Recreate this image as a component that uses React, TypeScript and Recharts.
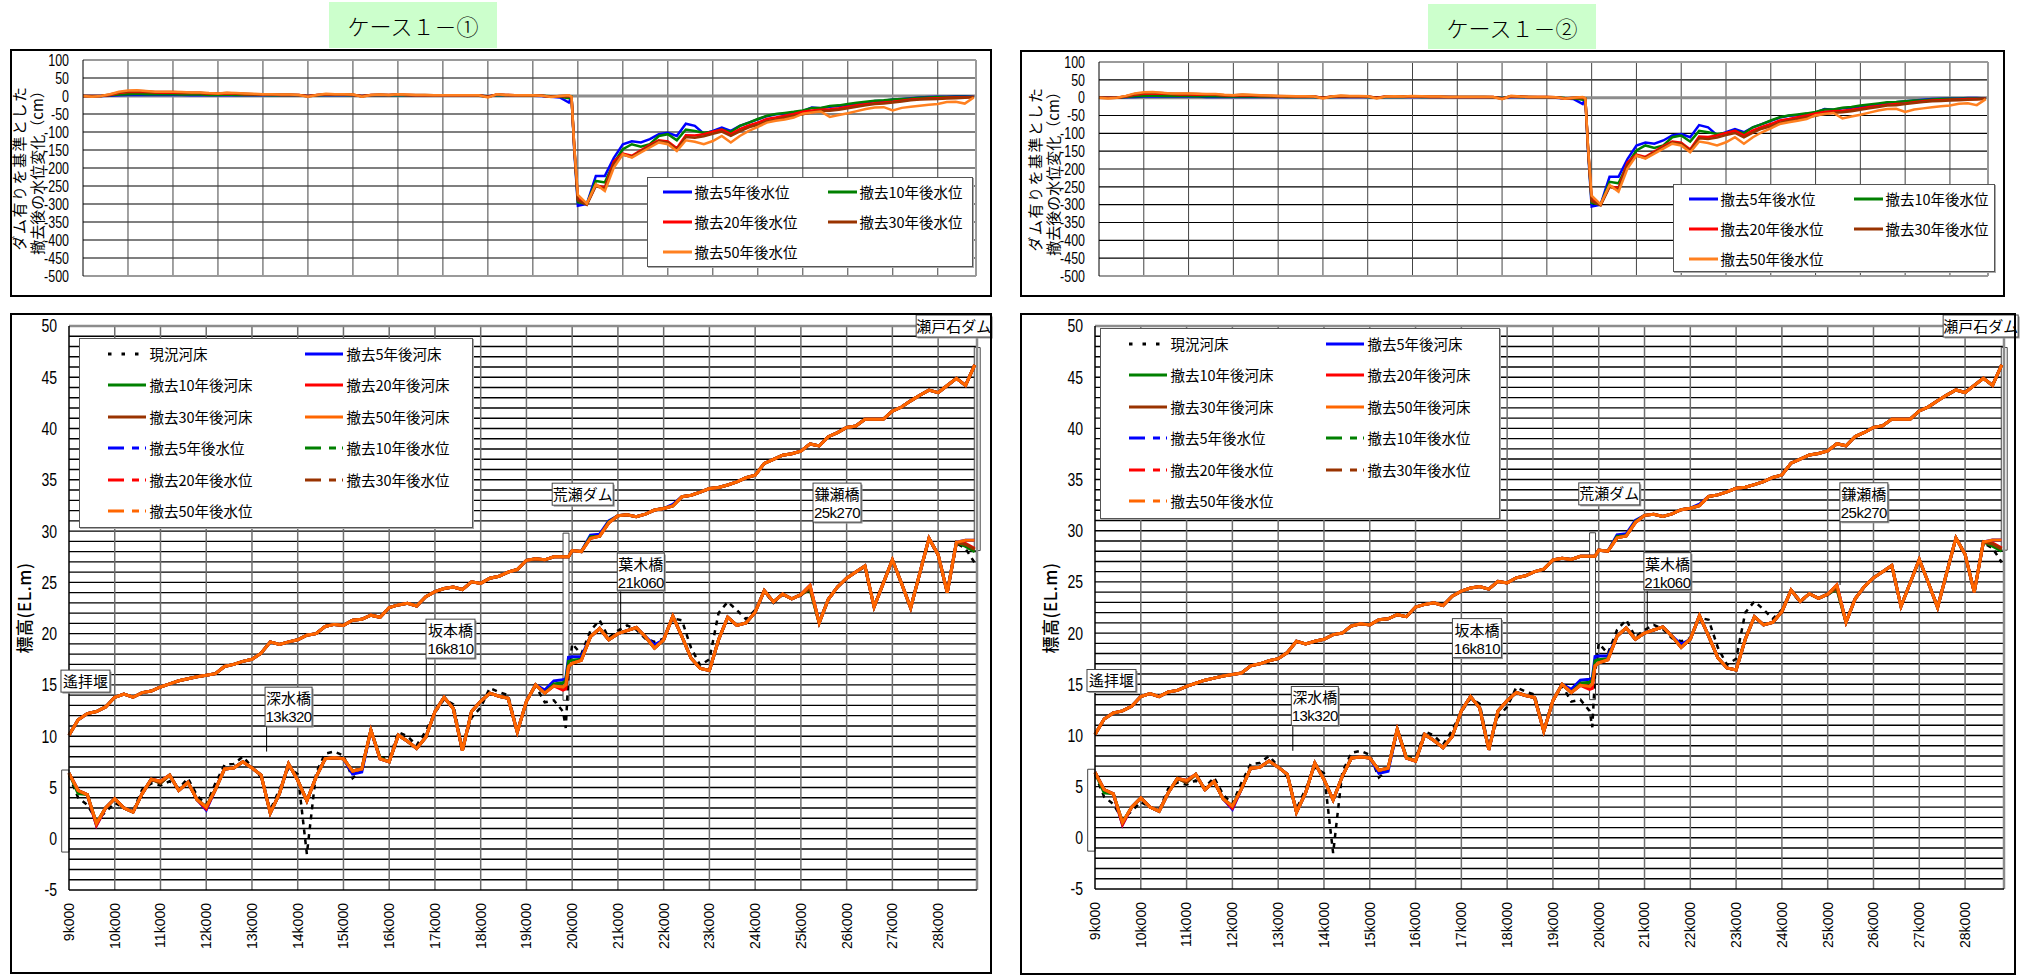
import React from 'react';
import {
  LineChart,
  Line,
  XAxis,
  YAxis,
  CartesianGrid,
  ReferenceLine,
  ReferenceArea,
  ReferenceDot,
} from 'recharts';

// distance (km) of each cross section
const km = [
  9, 9.2, 9.4, 9.6, 9.8, 10, 10.2, 10.4, 10.6, 10.8,
  11, 11.2, 11.4, 11.6, 11.8, 12, 12.2, 12.4, 12.6, 12.8,
  13, 13.2, 13.4, 13.6, 13.8, 14, 14.2, 14.4, 14.6, 14.8,
  15, 15.2, 15.4, 15.6, 15.8, 16, 16.2, 16.4, 16.6, 16.8,
  17, 17.2, 17.4, 17.6, 17.8, 18, 18.2, 18.4, 18.6, 18.8,
  19, 19.2, 19.4, 19.6, 19.8, 19.86, 19.92,
  20, 20.2, 20.4, 20.6, 20.8, 21, 21.2, 21.4, 21.6, 21.8,
  22, 22.2, 22.4, 22.6, 22.8, 23, 23.2, 23.4, 23.6, 23.8,
  24, 24.2, 24.4, 24.6, 24.8, 25, 25.2, 25.4, 25.6, 25.8,
  26, 26.2, 26.4, 26.6, 26.8, 27, 27.2, 27.4, 27.6, 27.8,
  28, 28.2, 28.4, 28.6, 28.8,
];

// 現況河床 (m)
const bedNow = [
  6.2, 4.0, 3.3, 1.8, 2.6, 3.5, 3.0, 2.7, 4.8, 5.4,
  5.2, 5.6, 4.9, 5.9, 4.2, 3.3, 5.4, 7.2, 7.3, 8.0,
  7.0, 6.0, 2.8, 4.8, 6.9, 6.3, -1.5, 6.4, 8.3, 8.5,
  8.1, 5.9, 6.7, 10.4, 7.9, 7.8, 10.4, 10.0, 9.1, 10.5,
  12.3, 13.6, 13.1, 8.8, 11.8, 12.8, 14.7, 14.3, 14.0, 10.5,
  13.4, 14.9, 13.3, 13.5, 12.4, 10.8, 16.0,
  19.0, 18.0, 20.3, 21.3, 19.6, 20.3, 20.8, 20.4, 19.5, 19.2,
  19.5, 21.5, 21.3, 18.6, 16.9, 17.5, 22.0, 23.1, 22.3, 21.4,
  22.3, 24.1, 23.0, 23.8, 23.4, 23.7, 24.5, 21.1, 23.3, 24.5,
  25.4, 26.0, 26.5, 22.7, 24.9, 27.1, 24.9, 22.6, 25.9, 29.2,
  27.6, 24.1, 28.8, 28.3, 26.9,
];

// 撤去50年後河床 (m)
const bed50 = [
  6.4, 4.7, 4.3, 1.5, 3.0, 3.9, 3.0, 2.6, 4.4, 5.8,
  5.6, 6.2, 4.7, 5.5, 3.8, 3.1, 4.8, 6.8, 6.9, 7.5,
  6.9, 6.2, 2.5, 4.4, 7.3, 5.7, 3.7, 6.0, 7.8, 7.9,
  7.8, 6.6, 6.8, 10.6, 7.8, 7.5, 10.1, 9.5, 8.8, 9.9,
  12.4, 13.8, 12.7, 8.6, 12.4, 13.4, 14.2, 13.9, 13.7, 10.4,
  13.4, 15.0, 14.2, 14.9, 14.8, 15.0, 16.8,
  17.1, 17.4, 19.7, 20.5, 19.4, 20.0, 20.3, 20.6, 19.7, 18.6,
  19.4, 21.7, 19.7, 17.6, 16.6, 16.4, 19.4, 21.6, 20.8, 21.05,
  22.1, 24.2, 23.1, 23.85, 23.4, 23.8, 24.7, 21.05, 23.35, 24.55,
  25.4, 26.0, 26.6, 22.6, 24.9, 27.2, 24.9, 22.5, 25.9, 29.3,
  27.7, 24.0, 28.9, 29.1, 29.1,
];

// where the other years' beds part from the 50-year bed
const bed5Fix: Record<string, number> = {
  '9.6': 1.3, '12': 2.8, '15.2': 6.3, '15.4': 6.5, '19.4': 14.5, '19.6': 15.4,
  '19.8': 15.5, '19.86': 15.6, '19.92': 17.7, '20': 17.75, '20.2': 17.75, '21.8': 18.9,
};
const bed10Fix: Record<string, number> = {
  '9.2': 4.4, '11': 5.4, '15.8': 7.9, '19.6': 15.1, '19.8': 15.2, '19.86': 15.4,
  '19.92': 17.3, '20': 17.4, '20.2': 17.5, '25.2': 24.3, '28.6': 28.5, '28.8': 28.0,
};
const bed20Fix: Record<string, number> = {
  '9.6': 1.3, '12': 2.9, '19.8': 14.5, '19.86': 14.6, '28.6': 28.8, '28.8': 28.3,
};
const bed30Fix: Record<string, number> = {
  '11': 5.4, '25.2': 24.4, '28.6': 28.7, '28.8': 28.2,
};

// 撤去50年後水位 (m)
const wl50 = [
  10.1, 11.6, 12.2, 12.4, 12.85, 13.8, 14.1, 13.8, 14.25, 14.4,
  14.8, 15.1, 15.4, 15.6, 15.8, 15.95, 16.1, 16.8, 17.0, 17.3,
  17.5, 18.1, 19.2, 18.95, 19.2, 19.4, 19.85, 20.0, 20.7, 20.9,
  20.8, 21.3, 21.4, 21.8, 21.6, 22.55, 22.8, 22.95, 22.7, 23.6,
  24.1, 24.4, 24.55, 24.3, 25.05, 24.9, 25.4, 25.6, 26.0, 26.25,
  27.15, 27.3, 27.2, 27.5, 27.5, 27.5, 27.5,
  28.1, 28.0, 29.3, 29.5, 30.8, 31.5, 31.6, 31.4, 31.65, 32.05,
  32.2, 32.45, 33.35, 33.5, 33.8, 34.15, 34.25, 34.5, 34.8, 35.2,
  35.45, 36.6, 37.0, 37.4, 37.55, 37.8, 38.5, 38.3, 39.2, 39.6,
  40.1, 40.25, 40.9, 40.9, 40.9, 41.7, 42.1, 42.7, 43.25, 43.75,
  43.5, 44.2, 44.9, 44.2, 46.2,
];
const wl5Fix: Record<string, number> = { '20.4': 29.6, '20.6': 29.7, '20.8': 31.0, '22.2': 32.6 };
const wl10Fix: Record<string, number> = { '20.4': 29.45, '20.8': 30.9 };
const wl20Fix: Record<string, number> = {};
const wl30Fix: Record<string, number> = {};

// ダム有りを基準とした撤去後の水位変化 (cm)
const dWL5 = [
  0, 0, 0, 1, 2, 3, 3, 3, 3, 3,
  3, 3, 2, 2, 2, 2, 2, 2, 2, 2,
  2, 2, 2, 2, 2, 0, 2, 2, 2, 2,
  2, 0, 2, 2, 2, 2, 2, 2, 2, 2,
  1, 1, 1, 1, 1, -1, 2, 2, 1, 1,
  1, 0, -2, -4, -18, -2, -150,
  -305, -300, -222, -222, -172, -134, -126, -129, -120, -106,
  -102, -111, -77, -83, -105, -97, -88, -97, -83, -74,
  -65, -56, -51, -49, -46, -42, -32, -34, -30, -28,
  -25, -22, -19, -14, -13, -10, -8, -6, -4, -3,
  -2, -2, -1, -1, -2,
];
const dWL10 = [
  0, 0, 0, 2, 4, 5, 6, 5, 5, 5,
  5, 4, 4, 4, 3, 3, 4, 3, 3, 3,
  3, 2, 2, 2, 2, 0, 2, 3, 3, 3,
  2, 0, 2, 2, 2, 3, 2, 2, 2, 2,
  2, 2, 2, 2, 1, -1, 3, 2, 2, 1,
  1, 1, -1, -2, -6, -3, -145,
  -295, -300, -236, -240, -186, -148, -134, -141, -134, -111,
  -106, -123, -93, -97, -102, -99, -93, -100, -83, -74,
  -64, -55, -50, -47, -44, -40, -33, -33, -28, -26,
  -22, -19, -16, -13, -12, -10, -8, -7, -5, -4,
  -3, -3, -2, -2, -3,
];
const dWL20 = [
  0, 0, 0, 3, 8, 11, 12, 11, 10, 9,
  9, 8, 8, 8, 6, 6, 7, 6, 5, 5,
  4, 4, 3, 3, 3, 0, 3, 4, 4, 4,
  3, 0, 3, 3, 3, 4, 3, 2, 2, 2,
  2, 2, 2, 2, 2, -2, 4, 3, 2, 2,
  2, 1, -2, -1, 0, -4, -142,
  -285, -300, -248, -254, -182, -160, -166, -151, -136, -123,
  -126, -145, -109, -110, -106, -99, -93, -106, -92, -82,
  -74, -64, -60, -55, -50, -44, -40, -38, -37, -34,
  -30, -26, -23, -20, -18, -16, -13, -10, -8, -7,
  -6, -5, -4, -4, -3,
];
const dWL30 = [
  0, -1, 0, 4, 10, 13, 14, 13, 11, 11,
  11, 10, 9, 9, 7, 7, 8, 7, 6, 5,
  5, 4, 4, 4, 3, -1, 3, 5, 4, 4,
  4, -1, 3, 4, 3, 4, 3, 3, 3, 2,
  2, 2, 2, 2, 2, -3, 4, 3, 2, 2,
  2, 1, -2, 0, 1, -3, -140,
  -290, -302, -250, -258, -188, -163, -169, -154, -139, -126,
  -129, -149, -114, -116, -112, -105, -99, -111, -98, -87,
  -80, -70, -65, -60, -55, -51, -45, -42, -41, -38,
  -34, -30, -26, -22, -21, -18, -15, -12, -10, -9,
  -8, -7, -6, -5, -3,
];
const dWL50 = [
  0, -2, 0, 5, 12, 15, 16, 14, 12, 12,
  12, 11, 10, 10, 8, 7, 9, 8, 7, 6,
  5, 5, 4, 4, 3, -2, 3, 6, 5, 5,
  4, -2, 3, 4, 3, 5, 4, 3, 3, 2,
  2, 2, 2, 2, 2, -4, 5, 3, 2, 2,
  2, 1, -3, 0, 2, -2, -140,
  -275, -299, -245, -264, -199, -162, -171, -157, -143, -129,
  -134, -153, -123, -127, -134, -125, -111, -129, -111, -97,
  -86, -74, -69, -65, -60, -49, -46, -43, -58, -53,
  -48, -42, -36, -32, -31, -40, -33, -30, -27, -24,
  -22, -17, -16, -21, -4,
];

const kmTicks = [9, 10, 11, 12, 13, 14, 15, 16, 17, 18, 19, 20, 21, 22, 23, 24, 25, 26, 27, 28];
const kmGrid = kmTicks.slice(1);
const levelTicks = [100, 50, 0, -50, -100, -150, -200, -250, -300, -350, -400, -450, -500];
const levelGrid = [50, -50, -100, -150, -200, -250, -300, -350, -400, -450];
const elevTicks = [50, 45, 40, 35, 30, 25, 20, 15, 10, 5, 0, -5];
const elevGrid = [
  49, 48, 47, 46, 45, 44, 43, 42, 41, 40, 39, 38, 37, 36, 35, 34, 33, 32, 31, 30,
  29, 28, 27, 26, 25, 24, 23, 22, 21, 20, 19, 18, 17, 16, 15, 14, 13, 12, 11, 10,
  9, 8, 7, 6, 5, 4, 3, 2, 1, 0, -1, -2, -3, -4,
];
const KM_MAX = 28.85;

const BLUE = '#0000ff';
const GREEN = '#008000';
const RED = '#ff0000';
const BROWN = '#993300';
const ORANGE = '#ff6600';
const ORANGE_TOP = '#ff8020';
const JP = "'Noto Sans CJK JP', 'Noto Sans', sans-serif";
const LATIN = "'Liberation Sans', Arial, sans-serif";
const DOTS = '3.5 10';
const DASHDOT = '16 8 7 6 1.5 40';

const levelData = km.map((k, i) => ({
  km: k, d5: dWL5[i], d10: dWL10[i], d20: dWL20[i], d30: dWL30[i], d50: dWL50[i],
}));

const pick = (fix: Record<string, number>, base: number[], i: number) =>
  fix[String(km[i])] ?? base[i];

const profileData = km.map((k, i) => ({
  km: k,
  now: bedNow[i],
  b5: pick(bed5Fix, bed50, i),
  b10: pick(bed10Fix, bed50, i),
  b20: pick(bed20Fix, bed50, i),
  b30: pick(bed30Fix, bed50, i),
  b50: bed50[i],
  w5: pick(wl5Fix, wl50, i),
  w10: pick(wl10Fix, wl50, i),
  w20: pick(wl20Fix, wl50, i),
  w30: pick(wl30Fix, wl50, i),
  w50: wl50[i],
}));

const levelSeries = [
  { key: 'd5', name: '撤去5年後水位', color: BLUE },
  { key: 'd10', name: '撤去10年後水位', color: GREEN },
  { key: 'd20', name: '撤去20年後水位', color: RED },
  { key: 'd30', name: '撤去30年後水位', color: BROWN },
  { key: 'd50', name: '撤去50年後水位', color: ORANGE_TOP },
];

const profileLegend = [
  { name: '現況河床', color: '#000', dash: DOTS },
  { name: '撤去5年後河床', color: BLUE },
  { name: '撤去10年後河床', color: GREEN },
  { name: '撤去20年後河床', color: RED },
  { name: '撤去30年後河床', color: BROWN },
  { name: '撤去50年後河床', color: ORANGE },
  { name: '撤去5年後水位', color: BLUE, dash: DASHDOT },
  { name: '撤去10年後水位', color: GREEN, dash: DASHDOT },
  { name: '撤去20年後水位', color: RED, dash: DASHDOT },
  { name: '撤去30年後水位', color: BROWN, dash: DASHDOT },
  { name: '撤去50年後水位', color: ORANGE, dash: DASHDOT },
];
const profileLines = [
  { key: 'b5', color: BLUE }, { key: 'b10', color: GREEN }, { key: 'b20', color: RED },
  { key: 'b30', color: BROWN }, { key: 'b50', color: ORANGE },
  { key: 'w5', color: BLUE }, { key: 'w10', color: GREEN }, { key: 'w20', color: RED },
  { key: 'w30', color: BROWN }, { key: 'w50', color: ORANGE },
];

// callout boxes, leader lines and frames of the profile chart
const tags = [
  { km: 9.36, v: 15.37, w: 49, h: 22, lines: ['遙拝堰'] },
  { km: 13.8, v: 12.88, w: 47, h: 39, lines: ['深水橋', '13k320'] },
  { km: 17.34, v: 19.51, w: 49, h: 39, lines: ['坂本橋', '16k810'] },
  { km: 20.23, v: 33.6, w: 61, h: 22, lines: ['荒瀬ダム'] },
  { km: 21.5, v: 26.05, w: 47, h: 37, lines: ['葉木橋', '21k060'] },
  { km: 25.79, v: 32.78, w: 48, h: 39, lines: ['鎌瀬橋', '25k270'] },
  { km: 28.34, v: 50.0, w: 75, h: 22, lines: ['瀬戸石ダム'] },
];
const leaders = [
  { km: 13.32, y1: 8.5, y2: 11.0 },
  { km: 16.81, y1: 12.0, y2: 17.6 },
  { km: 21.06, y1: 20.0, y2: 24.2 },
  { km: 25.27, y1: 24.7, y2: 30.9 },
];
const frames = [
  { x1: 8.84, x2: 9.0, y1: -1.3, y2: 6.7 },
  { x1: 19.8, x2: 19.93, y1: 13.5, y2: 29.8 },
  { x1: 28.79, x2: 28.92, y1: 28.1, y2: 47.9 },
];

type Box = { x: number; y: number; w: number; h: number };
type Plot = { l: number; t: number; r: number; b: number };
interface Layout {
  title: string;
  titleBox: Box;
  topOuter: Box;
  topPlot: Plot;
  topLegend: Box;
  botOuter: Box;
  botPlot: Plot;
  botLegend: Box;
}

const leftLayout: Layout = {
  title: 'ケース１－①',
  titleBox: { x: 329, y: 2, w: 168, h: 46 },
  topOuter: { x: 10, y: 49, w: 982, h: 248 },
  topPlot: { l: 83, t: 60, r: 976, b: 276 },
  topLegend: { x: 647, y: 177, w: 326, h: 90 },
  botOuter: { x: 10, y: 313, w: 982, h: 661 },
  botPlot: { l: 69, t: 326, r: 977, b: 890 },
  botLegend: { x: 79, y: 338, w: 394, h: 190 },
};
const rightLayout: Layout = {
  title: 'ケース１－②',
  titleBox: { x: 1428, y: 4, w: 168, h: 45 },
  topOuter: { x: 1020, y: 50, w: 985, h: 247 },
  topPlot: { l: 1099, t: 62, r: 1988, b: 276 },
  topLegend: { x: 1673, y: 184, w: 322, h: 88 },
  botOuter: { x: 1020, y: 313, w: 996, h: 662 },
  botPlot: { l: 1095, t: 326, r: 2004, b: 889 },
  botLegend: { x: 1100, y: 328, w: 400, h: 191 },
};

const KmTick = (p: any) => {
  const { x, y, payload } = p;
  const ty = y + 5;
  return (
    <text x={x} y={ty} transform={`rotate(-90 ${x} ${ty})`} textAnchor="end" dy="0.35em"
      fontSize={14} fontFamily={LATIN} fill="#000">
      {`${payload.value}k000`}
    </text>
  );
};

// condensed value labels like the original spreadsheet font
const NarrowTick = (p: any) => {
  const { x, y, payload, size } = p;
  return (
    <text transform={`translate(${x},${y}) scale(0.78,1)`} textAnchor="end" dy="0.36em"
      fontSize={size} fontFamily={LATIN} fill="#000">
      {payload.value}
    </text>
  );
};

const TagBox = (p: any) => {
  const { cx, cy, w, h, lines } = p;
  if (cx == null || cy == null) return null;
  const top = cy - h / 2;
  const two = lines.length > 1;
  return (
    <g>
      <rect x={cx - w / 2 + 1.5} y={top + 1.5} width={w} height={h} fill="#999" />
      <rect x={cx - w / 2} y={top} width={w} height={h} fill="#fff" stroke="#444" strokeWidth={1} />
      {lines.map((t: string, i: number) => (
        <text key={i} x={cx} y={two ? top + 17 + i * 18 : top + 16.5} textAnchor="middle"
          fontSize={15} fontFamily={i === 0 ? JP : LATIN} letterSpacing={i === 0 ? 0 : -0.5} fill="#000">{t}</text>
      ))}
    </g>
  );
};

function LegendSample({ color, dash, len }: { color: string; dash?: string; len: number }) {
  return (
    <svg width={len} height={6} style={{ position: 'absolute', top: -3, left: 0 }}>
      <line x1={0} y1={3} x2={len} y2={3} stroke={color} strokeWidth={3} strokeDasharray={dash} />
    </svg>
  );
}

function LegendBox({ box, items, col1, col2, rows, len, textGap }: {
  box: Box;
  items: { name: string; color: string; dash?: string }[];
  col1: number;
  col2: number;
  rows: number[];
  len: number;
  textGap: number;
}) {
  return (
    <div style={{
      position: 'absolute', left: box.x, top: box.y, width: box.w, height: box.h,
      boxSizing: 'border-box', border: '1.5px solid #555', background: '#fff',
      boxShadow: '1px 1px 0 #aaa',
    }}>
      {items.map((it, i) => {
        const left = (i % 2 === 0 ? col1 : col2) - 1.5;
        const top = rows[Math.floor(i / 2)] - 1.5;
        return (
          <div key={it.name} style={{ position: 'absolute', left, top }}>
            <LegendSample color={it.color} dash={it.dash} len={len} />
            <div style={{
              position: 'absolute', left: len + textGap, top: -10, height: 20, lineHeight: '20px',
              whiteSpace: 'nowrap', fontFamily: JP, fontSize: 14.5, color: '#000',
            }}>{it.name}</div>
          </div>
        );
      })}
    </div>
  );
}

function Rotated({ cx, cy, text, size, spacing = 0, weight = 400 }: {
  cx: number; cy: number; text: string; size: number; spacing?: number; weight?: number;
}) {
  return (
    <div style={{
      position: 'absolute', left: cx, top: cy, transform: 'translate(-50%, -50%) rotate(-90deg)',
      whiteSpace: 'nowrap', fontFamily: JP, fontSize: size, letterSpacing: spacing,
      fontWeight: weight, color: '#000', lineHeight: 1,
    }}>{text}</div>
  );
}

function LevelChart({ outer, plot }: { outer: Box; plot: Plot }) {
  const yW = 40;
  return (
    <div style={{ position: 'absolute', left: outer.x, top: outer.y }}>
      <LineChart
        width={outer.w}
        height={outer.h}
        data={levelData}
        margin={{
          top: plot.t - outer.y,
          right: outer.x + outer.w - plot.r,
          bottom: outer.y + outer.h - plot.b,
          left: plot.l - outer.x - yW,
        }}
      >
        <CartesianGrid vertical={false} horizontalValues={levelGrid} stroke="#000" strokeWidth={1.2} />
        <CartesianGrid horizontal={false} verticalValues={kmGrid} stroke="#444" strokeWidth={1} />
        <XAxis type="number" dataKey="km" domain={[9, KM_MAX]} ticks={kmTicks} hide />
        <YAxis
          width={yW}
          type="number"
          domain={[-500, 100]}
          ticks={levelTicks}
          interval={0}
          tickLine={false}
          tickMargin={8}
          axisLine={{ stroke: '#000' }}
          tick={<NarrowTick size={16} />}
        />
        <ReferenceLine y={0} stroke="#8c8c8c" strokeWidth={3} />
        <ReferenceLine y={100} stroke="#9a9a9a" strokeWidth={2} />
        <ReferenceLine y={-500} stroke="#9a9a9a" strokeWidth={2} />
        <ReferenceLine x={KM_MAX} stroke="#9a9a9a" strokeWidth={2} />
        {levelSeries.map((s) => (
          <Line
            key={s.key}
            type="linear"
            dataKey={s.key}
            name={s.name}
            stroke={s.color}
            strokeWidth={2.5}
            dot={false}
            activeDot={false}
            isAnimationActive={false}
          />
        ))}
      </LineChart>
    </div>
  );
}

function ProfileChart({ outer, plot }: { outer: Box; plot: Plot }) {
  const yW = 40;
  const xH = 70;
  return (
    <div style={{ position: 'absolute', left: outer.x, top: outer.y }}>
      <LineChart
        width={outer.w}
        height={outer.h}
        data={profileData}
        margin={{
          top: plot.t - outer.y,
          right: outer.x + outer.w - plot.r,
          bottom: outer.y + outer.h - plot.b - xH,
          left: plot.l - outer.x - yW,
        }}
      >
        <CartesianGrid vertical={false} horizontalValues={elevGrid} stroke="#000" strokeWidth={1.4} />
        <CartesianGrid horizontal={false} verticalValues={kmGrid} stroke="#6e6e6e" strokeWidth={1.5} />
        <XAxis
          type="number"
          dataKey="km"
          domain={[9, KM_MAX]}
          ticks={kmTicks}
          interval={0}
          height={xH}
          tickLine={false}
          axisLine={{ stroke: '#000', strokeWidth: 1.5 }}
          tick={<KmTick />}
        />
        <YAxis
          width={yW}
          type="number"
          domain={[-5, 50]}
          ticks={elevTicks}
          interval={0}
          tickLine={false}
          tickMargin={6}
          axisLine={{ stroke: '#000', strokeWidth: 1.5 }}
          tick={<NarrowTick size={18} />}
        />
        <ReferenceLine y={50} stroke="#8c8c8c" strokeWidth={2.5} />
        <ReferenceLine x={KM_MAX} stroke="#8c8c8c" strokeWidth={2.5} />
        {frames.map((f, i) => (
          <ReferenceArea key={`f${i}`} x1={f.x1} x2={f.x2} y1={f.y1} y2={f.y2} ifOverflow="visible"
            fill="#fff" fillOpacity={1} stroke="#444" strokeWidth={1} />
        ))}
        {leaders.map((l, i) => (
          <ReferenceLine key={`l${i}`} ifOverflow="visible" stroke="#000" strokeWidth={1}
            segment={[{ x: l.km, y: l.y1 }, { x: l.km, y: l.y2 }]} />
        ))}
        <Line type="linear" dataKey="now" name="現況河床" stroke="#000" strokeWidth={2.5}
          strokeDasharray="5 5" dot={false} activeDot={false} isAnimationActive={false} />
        {profileLines.map((s) => (
          <Line
            key={s.key}
            type="linear"
            dataKey={s.key}
            stroke={s.color}
            strokeWidth={3}
            dot={false}
            activeDot={false}
            isAnimationActive={false}
          />
        ))}
        {tags.map((t, i) => (
          <ReferenceDot key={`t${i}`} x={t.km} y={t.v} ifOverflow="visible"
            shape={(p: any) => <TagBox {...p} w={t.w} h={t.h} lines={t.lines} />} />
        ))}
      </LineChart>
    </div>
  );
}

function Panel({ L }: { L: Layout }) {
  const frame = (b: Box) => ({
    position: 'absolute' as const, left: b.x, top: b.y, width: b.w, height: b.h,
    boxSizing: 'border-box' as const, border: '2px solid #000', pointerEvents: 'none' as const,
  });
  const topMid = (L.topPlot.t + L.topPlot.b) / 2;
  const botMid = (L.botPlot.t + L.botPlot.b) / 2;
  return (
    <>
      <div style={{
        position: 'absolute', left: L.titleBox.x, top: L.titleBox.y, width: L.titleBox.w,
        height: L.titleBox.h, background: '#ccffcc', display: 'flex', alignItems: 'center',
        justifyContent: 'center', fontFamily: JP, fontSize: 22, fontWeight: 300, color: '#000',
      }}>{L.title}</div>

      <LevelChart outer={L.topOuter} plot={L.topPlot} />
      <div style={frame(L.topOuter)} />
      <Rotated cx={L.topPlot.l - 65} cy={topMid} text="ダム有りを基準とした" size={15} spacing={1.5} />
      <Rotated cx={L.topPlot.l - 47} cy={topMid + 1} text="撤去後の水位変化（cm）" size={15} />
      <LegendBox box={L.topLegend} items={levelSeries} col1={16} col2={181} rows={[15, 45, 75]}
        len={29} textGap={3} />

      <ProfileChart outer={L.botOuter} plot={L.botPlot} />
      <div style={frame(L.botOuter)} />
      <Rotated cx={L.botPlot.l - 46} cy={botMid} text="標高(EL.m)" size={17} spacing={0.5} weight={500} />
      <LegendBox box={L.botLegend} items={profileLegend} col1={29} col2={226}
        rows={[16, 47.7, 79.3, 110.3, 142, 173.7]} len={38} textGap={4} />
    </>
  );
}

export default function App() {
  return (
    <div style={{ position: 'absolute', left: 0, top: 0, width: 2033, height: 976, background: '#fff', overflow: 'hidden' }}>
      <style>{'.recharts-surface { overflow: visible; }'}</style>
      <Panel L={leftLayout} />
      <Panel L={rightLayout} />
    </div>
  );
}
